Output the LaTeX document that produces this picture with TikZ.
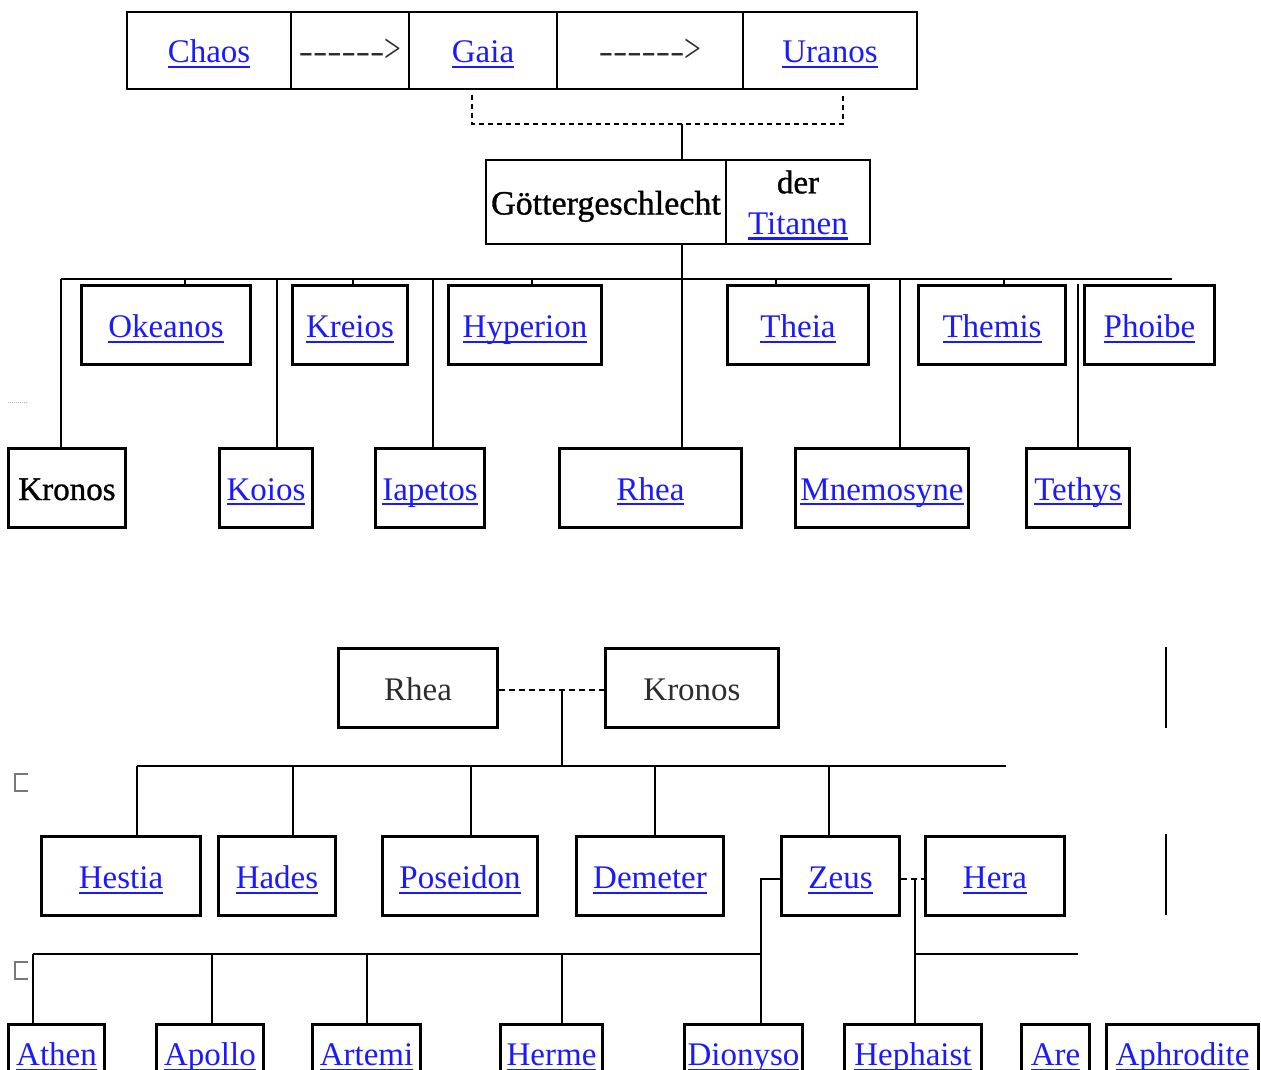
\documentclass[tikz,border=0pt]{standalone}
\usepackage{fontspec}
\setmainfont{Liberation Serif}
\newfontfamily\heavyfont[FakeBold=1]{Liberation Serif}
\usetikzlibrary{calc}
\definecolor{linkblue}{RGB}{26,26,255}
\definecolor{txtgray}{RGB}{45,45,45}
\definecolor{markgray}{RGB}{120,120,120}
\newcommand\lnk[1]{{\color{linkblue}\setbox0\hbox{#1}\rlap{\rule[-0.16em]{\wd0}{0.065em}}\box0}}
\newcommand\arrtxt{\textcolor{txtgray}{\scalebox{1.3}[1]{-{}-{}-{}-{}-{}-}\scalebox{0.9}[1.25]{>}}}
\tikzset{
  cell/.style={draw, line width=1.2pt, inner sep=0pt, text height=25pt, text depth=0pt},
  tbox/.style={draw, line width=3pt, inner sep=0pt, text height=25pt, text depth=0pt, minimum height=79},
  bbox/.style={draw, line width=3pt, inner sep=0pt, text height=25pt, text depth=0pt, minimum height=57},
  conn/.style={line width=2pt},
  dconn/.style={line width=2.5pt, dash pattern=on 5pt off 4pt},
  dconnb/.style={line width=2pt, dash pattern=on 6pt off 4pt},
  sidebar/.style={line width=2.5pt},
  stray/.style={markgray, line width=1.5pt},
}
\begin{document}
\begin{tikzpicture}[x=1pt, y=-1pt, font=\fontsize{33}{41}\selectfont]
\useasboundingbox (0,0) rectangle (1261,1070);
\clip (0,0) rectangle (1261,1070);

% ---------- top table ----------
\node[cell, minimum width=164, minimum height=77] (chaos) at (209,50.5) {\lnk{Chaos}};
\node[cell, minimum width=118, minimum height=77] (arr1) at (350,50.5) {\arrtxt};
\node[cell, minimum width=148, minimum height=77] (gaia) at (483,50.5) {\lnk{Gaia}};
\node[cell, minimum width=186, minimum height=77] (arr2) at (650,50.5) {\arrtxt};
\node[cell, minimum width=174, minimum height=77] (uranos) at (830,50.5) {\lnk{Uranos}};

\coordinate (tj) at (682,124);
\draw[dconn] ([shift={(-11,5)}]gaia.south) |- (tj) -| ([shift={(13,5)}]uranos.south);

% ---------- Göttergeschlecht table ----------
\node[cell, minimum width=240, minimum height=84, font=\heavyfont\fontsize{34}{41}\selectfont] (gotter) at (606,202) {Göttergeschlecht};
\node[draw, line width=1.2pt, minimum width=144, minimum height=84, inner sep=0pt] (titcell) at (798,202) {};
\node[align=center, inner sep=0pt] (tittext) at (798,205) {{\heavyfont der}\\\lnk{Titanen}};
\draw[conn] (tj) -- (tj |- gotter.north);

% ---------- Titans ----------
\coordinate (busL) at (61,279);
\coordinate (busR) at (1172,279);
\draw[conn] (busL) -- (busR);

\node[tbox, minimum width=169] (okeanos) at (166,325) {\lnk{Okeanos}};
\node[tbox, minimum width=115] (kreios) at (350,325) {\lnk{Kreios}};
\node[tbox, minimum width=153] (hyperion) at (525,325) {\lnk{Hyperion}};
\node[tbox, minimum width=141] (theia) at (798,325) {\lnk{Theia}};
\node[tbox, minimum width=147] (themis) at (992,325) {\lnk{Themis}};
\node[tbox, minimum width=130] (phoibe) at (1149.5,325) {\lnk{Phoibe}};

\node[tbox, minimum width=117, font=\heavyfont\fontsize{33}{41}\selectfont] (kronosT) at (67,487.5) {Kronos};
\node[tbox, minimum width=93] (koios) at (266,487.5) {\lnk{Koios}};
\node[tbox, minimum width=109] (iapetos) at (430,487.5) {\lnk{Iapetos}};
\node[tbox, minimum width=182] (rheaT) at (650.5,487.5) {\lnk{Rhea}};
\node[tbox, minimum width=173] (mnemo) at (882,487.5) {\lnk{Mnemosyne}};
\node[tbox, minimum width=103] (tethys) at (1078,487.5) {\lnk{Tethys}};

\draw[conn] ([xshift=19pt]okeanos.north) -- ([xshift=19pt]okeanos.north |- busL);
\draw[conn] ([xshift=3pt]kreios.north) -- ([xshift=3pt]kreios.north |- busL);
\draw[conn] ([xshift=7pt]hyperion.north) -- ([xshift=7pt]hyperion.north |- busL);
\draw[conn] ([xshift=-22pt]theia.north) -- ([xshift=-22pt]theia.north |- busL);
\draw[conn] ([xshift=12pt]themis.north) -- ([xshift=12pt]themis.north |- busL);

\draw[conn] ([xshift=-6pt]kronosT.north) -- ([xshift=-6pt]kronosT.north |- busL);
\draw[conn] ([xshift=11pt]koios.north) -- ([xshift=11pt]koios.north |- busL);
\draw[conn] ([xshift=3pt]iapetos.north) -- ([xshift=3pt]iapetos.north |- busL);
\draw[conn] (tj |- gotter.south) -- (tj |- rheaT.north);
\draw[conn] ([xshift=18pt]mnemo.north) -- ([xshift=18pt]mnemo.north |- busL);
\draw[conn] (tethys.north) -- (tethys.north |- phoibe.north);

% stray mark
\draw[markgray!60, line width=1pt, dash pattern=on 1pt off 1pt] (8,402) -- (28,402);

% ---------- Kronos & Rhea ----------
\node[tbox, minimum width=159, text=txtgray] (rheaL) at (418,688) {Rhea};
\node[tbox, minimum width=173, text=txtgray] (kronosL) at (692,688) {Kronos};
\draw[dconnb] ([yshift=-2pt]rheaL.east) -- ([yshift=-2pt]kronosL.west);
\coordinate (rk) at (562,690);
\coordinate (bus2L) at (137,766);
\coordinate (bus2R) at (1006,766);
\draw[conn] (rk) -- (rk |- bus2L);
\draw[conn] (bus2L) -- (bus2R);

\node[tbox, minimum width=159] (hestia) at (121,876) {\lnk{Hestia}};
\node[tbox, minimum width=117] (hades) at (277,876) {\lnk{Hades}};
\node[tbox, minimum width=155] (poseidon) at (460,876) {\lnk{Poseidon}};
\node[tbox, minimum width=147] (demeter) at (650,876) {\lnk{Demeter}};
\node[tbox, minimum width=118] (zeus) at (840.5,876) {\lnk{Zeus}};
\node[tbox, minimum width=139] (hera) at (995,876) {\lnk{Hera}};

\draw[conn] ([xshift=16pt]hestia.north) -- ([xshift=16pt]hestia.north |- bus2L);
\draw[conn] ([xshift=16pt]hades.north) -- ([xshift=16pt]hades.north |- bus2L);
\draw[conn] ([xshift=11pt]poseidon.north) -- ([xshift=11pt]poseidon.north |- bus2L);
\draw[conn] ([xshift=5pt]demeter.north) -- ([xshift=5pt]demeter.north |- bus2L);
\draw[conn] ([xshift=-11.5pt]zeus.north) -- ([xshift=-11.5pt]zeus.north |- bus2L);

% side bars
\coordinate (s1a) at (1166,647);
\coordinate (s1b) at (1166,728);
\coordinate (s2a) at (1166,834);
\coordinate (s2b) at (1166,915);
\draw[sidebar] (s1a) -- (s1b);
\draw[sidebar] (s2a) -- (s2b);

% stray brackets
\draw[stray] (28,774) -- (15,774) -- (15,791) -- (28,791);
\draw[stray] (28,962) -- (15,962) -- (15,979) -- (28,979);

% ---------- children of Zeus ----------
\node[bbox, minimum width=96] (athen) at (56.5,1053) {\lnk{Athen}};
\node[bbox, minimum width=107] (apollo) at (210,1053) {\lnk{Apollo}};
\node[bbox, minimum width=108] (artemi) at (366.5,1053) {\lnk{Artemi}};
\node[bbox, minimum width=102] (herme) at (551.5,1053) {\lnk{Herme}};
\node[bbox, minimum width=118] (dionyso) at (743.5,1053) {\lnk{Dionyso}};
\node[bbox, minimum width=137] (hephaist) at (913,1053) {\lnk{Hephaist}};
\node[bbox, minimum width=68] (are) at (1055.5,1053) {\lnk{Are}};
\node[bbox, minimum width=152] (aphrodite) at (1182.5,1053) {\lnk{Aphrodite}};

\draw[dconnb] ([yshift=-3pt]zeus.east) -- ([yshift=-3pt]hera.west);
\coordinate (zh) at (915,879);
\coordinate (b3L) at (33,954);
\coordinate (b3R) at (1078,954);
\draw[conn] ([yshift=-3pt]zeus.west) -| ([xshift=17.5pt]dionyso.north);
\draw[conn] (b3L) -- ([xshift=17.5pt]dionyso.north |- b3L);
\draw[conn] (zh) -- (zh |- hephaist.north);
\draw[conn] (zh |- b3R) -- (b3R);
\draw[conn] ([xshift=-23.5pt]athen.north) -- ([xshift=-23.5pt]athen.north |- b3L);
\draw[conn] ([xshift=2pt]apollo.north) -- ([xshift=2pt]apollo.north |- b3L);
\draw[conn] (artemi.north) -- (artemi.north |- b3L);
\draw[conn] ([xshift=10.5pt]herme.north) -- ([xshift=10.5pt]herme.north |- b3L);
\end{tikzpicture}
\end{document}
